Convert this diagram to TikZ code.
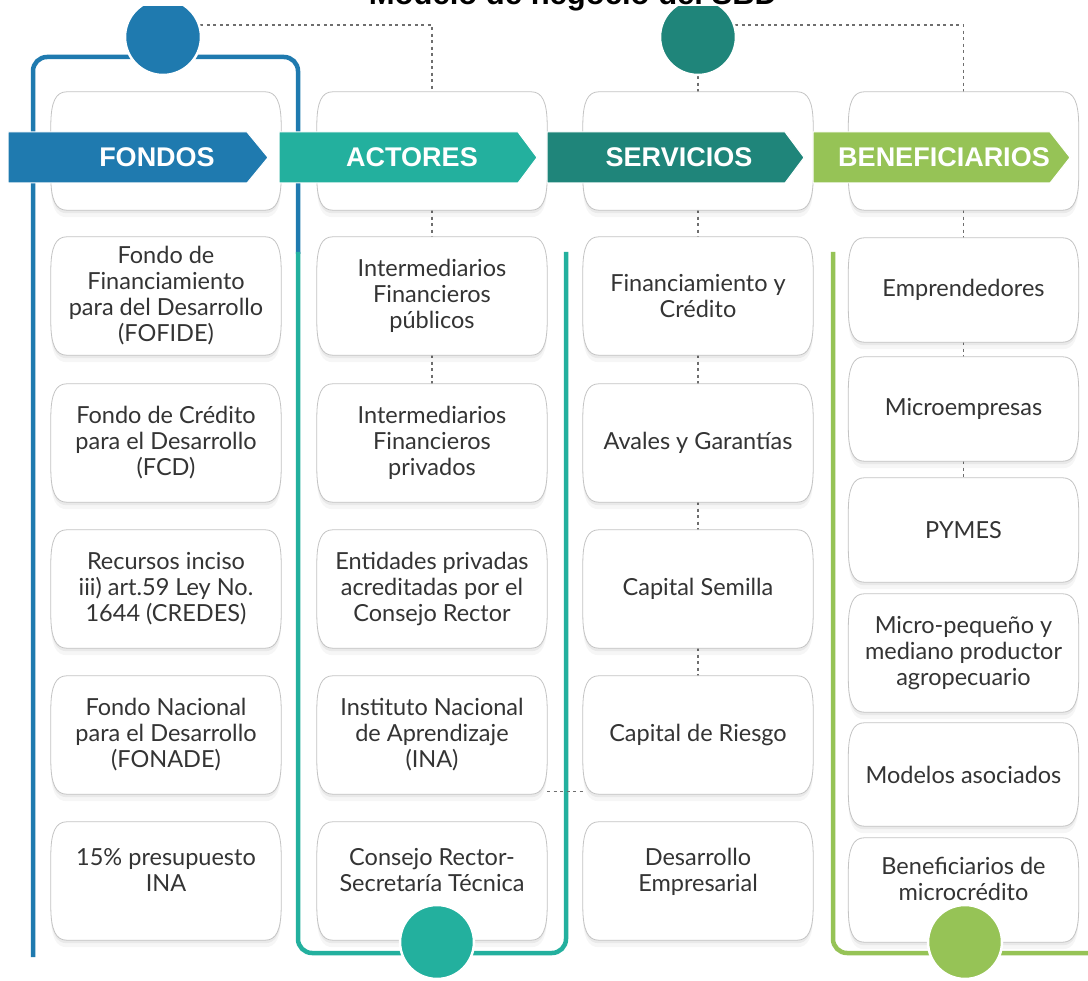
\documentclass[tikz,border=0pt]{standalone}
\usepackage{fontspec}
\setmainfont{Lato}
\newfontfamily\hdfont{Liberation Sans}
\usetikzlibrary{calc}
\definecolor{cFon}{RGB}{31,122,175}
\definecolor{cAct}{RGB}{35,176,158}
\definecolor{cSer}{RGB}{31,133,122}
\definecolor{cBen}{RGB}{150,195,86}
\definecolor{cTxt}{RGB}{52,52,52}
\definecolor{cLine}{RGB}{196,196,196}
\definecolor{cDot}{RGB}{110,110,110}
\pgfdeclarelayer{back}
\pgfdeclarelayer{boxes}
\pgfsetlayers{back,boxes,main}
\tikzset{
  cell/.style={minimum width=230pt, minimum height=118pt, inner sep=0pt, align=center, text=cTxt, font=\fontsize{23.5}{26}\selectfont},
  cellB/.style={cell, minimum height=104pt},
  hdtext/.style={text=white, font=\hdfont\bfseries\fontsize{27}{30}\selectfont, inner sep=0pt},
  hdbar/.style={draw=white, line width=1pt},
  dotline/.style={draw=cDot, line width=1.3pt, dash pattern=on 3pt off 3.5pt},
  frameline/.style={line width=4.5pt, rounded corners=14pt},
  disc/.style={circle, minimum size=76pt, inner sep=0pt, draw=white, line width=2.5pt},
  cellline/.style={fill=white, draw=cLine, line width=0.8pt,
     preaction={fill=black, opacity=0.035, transform canvas={yshift=-7pt}},
     preaction={fill=black, opacity=0.05, transform canvas={yshift=-3pt}}},
}
\newcommand\cellshape[1]{%
 \begin{pgfonlayer}{boxes}
 \path[cellline] ($(#1.north west)+(16,0)$) -- ($(#1.north east)+(-16,0)$)
   .. controls ($(#1.north east)+(-5,0)$) and ($(#1.north east)+(0,10)$) .. ($(#1.north east)+(0,34)$)
   -- ($(#1.south east)+(0,-34)$)
   .. controls ($(#1.south east)+(0,-10)$) and ($(#1.south east)+(-5,0)$) .. ($(#1.south east)+(-16,0)$)
   -- ($(#1.south west)+(16,0)$)
   .. controls ($(#1.south west)+(5,0)$) and ($(#1.south west)+(0,-10)$) .. ($(#1.south west)+(0,-34)$)
   -- ($(#1.north west)+(0,34)$)
   .. controls ($(#1.north west)+(0,10)$) and ($(#1.north west)+(5,0)$) .. ($(#1.north west)+(16,0)$)
   -- cycle;
 \end{pgfonlayer}}
\begin{document}
\begin{tikzpicture}[x=1pt,y=-1pt]
\useasboundingbox (0,0) rectangle (1088,981);
\begin{pgfonlayer}{back}
\fill[white] (0,0) rectangle (1088,981);
\end{pgfonlayer}

% title (cut by the top edge, as in the reference)
\node[font=\hdfont\bfseries\fontsize{31}{36}\selectfont, anchor=base, inner sep=0pt] (title) at (573,5) {Modelo de negocio del SBD};

% header boxes
\node[cell] (h1) at (166,151) {};
\node[cell] (h2) at (432,151) {};
\node[cell] (h3) at (698,151) {};
\node[cell] (h4) at (963.5,151) {};

% column FONDOS
\node[cell] (f1) at (166,296) {Fondo de\\Financiamiento\\para del Desarrollo\\(FOFIDE)};
\node[cell] (f2) at (166,443) {Fondo de Crédito\\para el Desarrollo\\(FCD)};
\node[cell] (f3) at (166,589) {Recursos inciso\\iii) art.59 Ley No.\\1644 (CREDES)};
\node[cell] (f4) at (166,735) {Fondo Nacional\\para el Desarrollo\\(FONADE)};
\node[cell] (f5) at (166,881) {15\% presupuesto\\INA\\[-4pt]\mbox{}};

% column ACTORES
\node[cell] (a1) at (432,296) {Intermediarios\\Financieros\\públicos};
\node[cell] (a2) at (432,443) {Intermediarios\\Financieros\\privados};
\node[cell] (a3) at (432,589) {Entidades privadas\\acreditadas por el\\Consejo Rector};
\node[cell] (a4) at (432,735) {Instituto Nacional\\de Aprendizaje\\(INA)};
\node[cell] (a5) at (432,881) {Consejo Rector-\\Secretaría Técnica\\[-4pt]\mbox{}};

% column SERVICIOS
\node[cell] (s1) at (698,296) {Financiamiento y\\Crédito};
\node[cell] (s2) at (698,443) {Avales y Garantías};
\node[cell] (s3) at (698,589) {Capital Semilla};
\node[cell] (s4) at (698,735) {Capital de Riesgo};
\node[cell] (s5) at (698,881) {Desarrollo\\Empresarial\\[-4pt]\mbox{}};

% column BENEFICIARIOS
\node[cellB] (b1) at (963.5,290) {Emprendedores};
\node[cellB] (b2) at (963.5,409) {Microempresas};
\node[cellB] (b3) at (963.5,530) {PYMES};
\node[cell]  (b4) at (963.5,653) {Micro-pequeño y\\mediano productor\\agropecuario};
\node[cellB, minimum height=103pt] (b5) at (963.5,774.5) {Modelos asociados};
\node[cellB] (b6) at (963.5,890) {Beneficiarios de\\microcrédito\\[-4pt]\mbox{}};

\foreach \n in {h1,h2,h3,h4,f1,f2,f3,f4,f5,a1,a2,a3,a4,a5,s1,s2,s3,s4,s5,b1,b2,b3,b4,b5,b6}{\cellshape{\n}}

% frames
\begin{pgfonlayer}{back}
\draw[frameline, cFon] (33,957) -- (33,57) -- (298,57) -- (298,254);
\draw[frameline, cAct] (298,252) -- (298,953) -- (566,953) -- (566,252);
\draw[frameline, cBen] (833,252) -- (833,953) -- (1100,953);
\end{pgfonlayer}

% header arrows
\filldraw[hdbar, fill=cFon] (8,132) -- (247,132) -- (268,157.5) -- (247,183) -- (8,183) -- cycle;
\filldraw[hdbar, fill=cAct] (279,132) -- (518,132) -- (537,157.5) -- (518,183) -- (279,183) -- cycle;
\filldraw[hdbar, fill=cSer] (547,132) -- (785,132) -- (804,157.5) -- (785,183) -- (547,183) -- cycle;
\filldraw[hdbar, fill=cBen] (813,132) -- (1050,132) -- (1070,157.5) -- (1050,183) -- (813,183) -- cycle;
\node[hdtext] (t1) at (157,157.5) {FONDOS};
\node[hdtext] (t2) at (412,157.5) {ACTORES};
\node[hdtext] (t3) at (679,157.5) {SERVICIOS};
\node[hdtext] (t4) at (944,157.5) {BENEFICIARIOS};

% top circles (cut at the top)
\begin{scope}
\clip (0,7) rectangle (1088,120);
\node[disc, fill=cFon] (c1) at (163,37) {};
\node[disc, fill=cSer] (c2) at (698,37) {};
\end{scope}

% bottom circles
\node[disc, fill=cAct, minimum size=74pt] (c3) at (437,942) {};
\node[disc, fill=cBen, minimum size=74pt] (c4) at (965,942) {};

% dotted connectors
\begin{pgfonlayer}{back}
\draw[dotline] (c1.18) -| (h2.north);
\draw[dotline] (c2.18) -| (h4.north);
\draw[dotline] (c2.south) -- (h3.north);
\draw[dotline] (h2.south) -- (a1.north);
\draw[dotline] (a1.south) -- (a2.north);
\draw[dotline] (h3.south) -- (s1.north);
\draw[dotline] (s1.south) -- (s2.north);
\draw[dotline] (s2.south) -- (s3.north);
\draw[dotline] (s3.south) -- (s4.north);
\draw[dotline] (h4.south) -- (b1.north);
\draw[dotline] (b1.south) -- (b2.north);
\draw[dotline] (b2.south) -- (b3.north);
\draw[dotline] ([yshift=3pt]a4.south east) -- ([yshift=3pt]s4.south west);
\end{pgfonlayer}
\end{tikzpicture}
\end{document}
